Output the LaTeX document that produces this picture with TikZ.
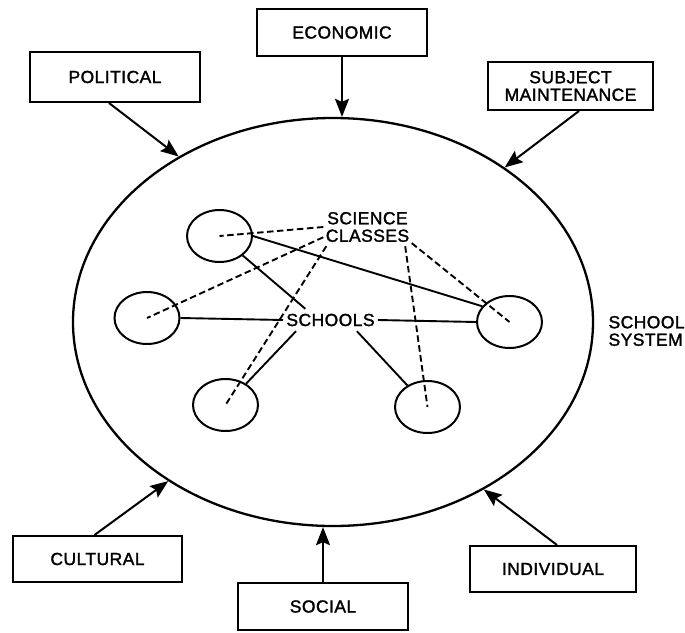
\documentclass[tikz,border=0pt]{standalone}
\usepackage{fontspec}
\setmainfont{Liberation Sans}
\newfontfamily\labfont[LetterSpace=2.5,FakeBold=1.6]{Liberation Sans}
\usetikzlibrary{shapes.geometric,arrows.meta}
\begin{document}
\begin{tikzpicture}[x=1pt,y=-1pt,
  lab/.style={font=\labfont\fontsize{17.5}{17.5}\selectfont, align=center},
  box/.style={draw, line width=2pt, lab, inner sep=0pt},
  school/.style={ellipse, draw, line width=2pt, minimum width=65pt, minimum height=52pt, inner sep=0pt},
  arr/.style={line width=2pt, -{Stealth[length=18pt,width=14pt,inset=3pt]}},
  link/.style={line width=1.9pt},
  dlink/.style={line width=1.9pt, dash pattern=on 6.5pt off 3.5pt},
]
\useasboundingbox (0,0) rectangle (685,632);
\fill[white] (0,0) rectangle (685,632);
% school system
\node[ellipse, draw, line width=2.3pt, minimum width=520pt, minimum height=408pt, inner sep=0pt] (sys) at (333,322) {};
% outside boxes
\node[box, minimum width=170pt, minimum height=50pt] (pol) at (115,77) {POLITICAL};
\node[box, minimum width=170pt, minimum height=47pt] (eco) at (342,32.5) {ECONOMIC};
\node[box, minimum width=165pt, minimum height=48pt] (sub) at (570.5,86) {SUBJECT\\MAINTENANCE};
\node[box, minimum width=169pt, minimum height=46pt] (cul) at (97.5,559) {CULTURAL};
\node[box, minimum width=170pt, minimum height=47pt] (soc) at (323,606.5) {SOCIAL};
\node[box, minimum width=166pt, minimum height=46pt] (ind) at (553,569) {INDIVIDUAL};
% schools
\node[school] (c1) at (219.5,236) {};
\node[school] (c2) at (147,318) {};
\node[school] (c3) at (225.5,405) {};
\node[school] (c4) at (427.5,407) {};
\node[school] (c5) at (509.5,322) {};
% labels
\node[lab, inner xsep=3pt, inner ysep=0pt, minimum height=22pt] (sch) at (330.5,320) {SCHOOLS};
\node[lab, inner sep=2pt, minimum height=38pt, minimum width=88pt] (sci) at (367.5,227) {SCIENCE\\CLASSES};
\node[lab, align=left, anchor=west] (syslbl) at (605,331) {SCHOOL\\SYSTEM};
% solid links
\draw[link] (c1.east) -- (c5.150);
\draw[link] (c1.320) -- (sch.156);
\draw[link] (c2.east) -- (sch.west);
\draw[link] (sch.east) -- (c5.west);
\draw[link] (sch.198) -- (c3.46);
\draw[link] (sch.337) -- (c4.133);
% dashed links
\draw[dlink] (sci.west) -- (c1.center);
\draw[dlink] (sci.193) -- (c2.center);
\draw[dlink] (sci.205) -- (c3.center);
\draw[dlink] (sci.333) -- (c4.center);
\draw[dlink] (sci.340) -- (c5.center);
% influences
\draw[arr] ([xshift=-6pt]pol.south) -- (sys.133.7);
\draw[arr] (eco.south) -- (eco.south |- sys.north);
\draw[arr] ([xshift=8.5pt]sub.south) -- (sys.42.6);
\draw[arr] ([xshift=-3pt]cul.north) -- (sys.224.6);
\draw[arr] (soc.north) -- (soc.north |- sys.south);
\draw[arr] ([xshift=4pt]ind.north) -- (sys.312.7);
\end{tikzpicture}
\end{document}
